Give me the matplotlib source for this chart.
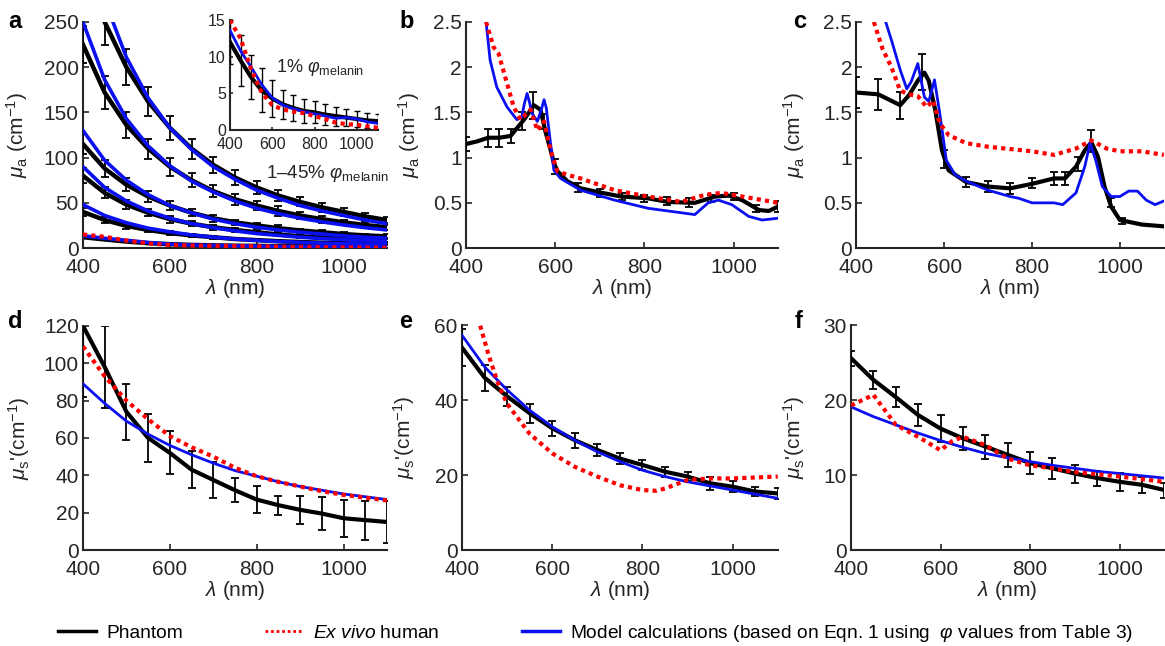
import matplotlib
matplotlib.use('Agg')
import matplotlib.pyplot as plt
from matplotlib.lines import Line2D

plt.rcParams['font.family'] = ['Liberation Sans', 'DejaVu Sans']
plt.rcParams['mathtext.fontset'] = 'custom'
plt.rcParams['mathtext.rm'] = 'Liberation Sans'
plt.rcParams['mathtext.it'] = 'Liberation Sans:italic'
plt.rcParams['mathtext.bf'] = 'Liberation Sans:bold'

# common wavelength grid (nm)
wl = [400, 450, 500, 550, 600, 650, 700, 750, 800, 850, 900, 950, 1000, 1050, 1100]

# panel a: mu_a for phantoms with 1-45% melanin
a_phantom = [
    [335, 250, 200, 162, 133, 110, 92, 78, 67, 58, 51, 45, 40, 35, 31],
    [225, 172, 136, 110, 90, 75, 63, 54, 47, 41, 36, 32, 28.5, 25.5, 23],
    [115, 88, 70, 57, 47, 39, 33, 28.5, 25, 22, 19.5, 17.5, 15.5, 14, 13],
    [80, 61, 48, 39, 32, 27, 23, 20, 17.5, 15, 13, 11.5, 10.5, 9.5, 8.7],
    [40, 31, 24.5, 20, 16.5, 14, 12, 10, 8.8, 7.6, 6.7, 5.9, 5.2, 4.7, 4.3],
]
a_err = [
    [30, 25, 20, 16, 13, 11, 9, 8, 7, 6, 5, 5, 4, 4, 3],
    [20, 18, 14, 11, 10, 8, 7, 6, 5, 5, 4, 4, 3, 3, 3],
    [11, 9, 7, 6, 5, 4, 4, 3, 3, 3, 2, 2, 2, 2, 2],
    [8, 6, 5, 4, 4, 3, 3, 2, 2, 2, 2, 2, 1.5, 1.5, 1.5],
    [4, 3, 3, 2.5, 2, 2, 1.5, 1.5, 1.5, 1, 1, 1, 1, 1, 1],
]
a_model = [
    [368, 274, 211, 166, 133, 109, 90, 76, 64, 55, 47, 41, 36, 31, 27],
    [250, 186, 143, 113, 91, 74, 62, 52, 44, 38, 33, 29, 25.5, 22.5, 20],
    [130, 97, 75, 59, 47, 39, 32, 27, 23, 20, 17.5, 15.5, 13.5, 12, 11],
    [90, 67, 52, 41, 33, 27, 22.5, 19, 16, 14, 12, 10.5, 9.3, 8.3, 7.5],
    [48, 36, 28, 22, 18, 14.5, 12, 10, 8.5, 7.3, 6.3, 5.5, 4.9, 4.3, 3.8],
]
# 1% melanin (also the inset)
a1_phantom = [12, 9.5, 7.2, 5.4, 4.3, 3.5, 3.0, 2.6, 2.4, 2.1, 1.9, 1.7, 1.5, 1.3, 1.2]
a1_err = [3, 3.5, 3, 3, 2.5, 2, 1.8, 1.6, 1.5, 1.4, 1.3, 1.2, 1.1, 1, 1]
a1_model = [13.6, 10.8, 8.6, 6.2, 4.4, 3.4, 2.9, 2.5, 2.2, 1.9, 1.6, 1.7, 1.5, 1.1, 0.9]
a1_exvivo = [15, 12.5, 8.3, 5.1, 3.4, 2.8, 2.5, 2.3, 1.9, 1.5, 1.0, 0.8, 0.7, 0.5, 0.3]

# panel b
b_wl = [400, 425, 450, 475, 500, 515, 530, 540, 552, 567, 578, 590, 597, 605, 627, 657,
        695, 748, 808, 853, 913, 959, 989, 1019, 1057, 1079, 1100]
b_phantom = [1.15, 1.18, 1.22, 1.22, 1.24, 1.33, 1.42, 1.49, 1.58, 1.53, 1.29, 1.08, 0.94,
             0.85, 0.74, 0.66, 0.62, 0.57, 0.55, 0.51, 0.50, 0.57, 0.58, 0.53, 0.42, 0.41, 0.46]
b_eb_wl = [400, 450, 475, 500, 525, 550, 575, 600, 650, 700, 750, 800, 850, 900, 950, 1000, 1050, 1100]
b_eb_val = [1.15, 1.22, 1.22, 1.24, 1.4, 1.58, 1.4, 0.9, 0.67, 0.61, 0.57, 0.55, 0.52, 0.5, 0.55, 0.57, 0.44, 0.46]
b_eb_err = [0.08, 0.1, 0.1, 0.08, 0.1, 0.15, 0.08, 0.08, 0.05, 0.04, 0.04, 0.04, 0.04, 0.05, 0.04, 0.04, 0.04, 0.06]
b_ex_wl = [445, 462, 473, 492, 507, 522, 545, 560, 575, 590, 605, 627, 657, 733, 808, 883, 936, 973, 1019, 1100]
b_exvivo = [2.5, 2.22, 2.15, 1.82, 1.56, 1.42, 1.53, 1.30, 1.40, 1.07, 0.85, 0.81, 0.77, 0.64,
            0.57, 0.51, 0.59, 0.61, 0.57, 0.50]
b_mo_wl = [445, 454, 469, 492, 514, 525, 531, 537, 543, 548, 560, 570, 575, 580, 586, 597, 612,
           657, 733, 808, 883, 913, 943, 966, 996, 1034, 1064, 1100]
b_model = [2.5, 2.08, 1.78, 1.56, 1.42, 1.45, 1.6, 1.71, 1.6, 1.49, 1.40, 1.55, 1.64, 1.55, 1.30,
           0.86, 0.77, 0.64, 0.53, 0.44, 0.39, 0.37, 0.50, 0.53, 0.48, 0.35, 0.31, 0.33]

# panel c
c_wl = [400, 450, 500, 520, 540, 555, 565, 580, 595, 610, 650, 700, 750, 800, 850, 875, 900,
        920, 935, 950, 965, 980, 1000, 1050, 1100]
c_phantom = [1.72, 1.70, 1.58, 1.69, 1.85, 1.94, 1.85, 1.52, 1.08, 0.86, 0.73, 0.68, 0.66,
             0.71, 0.77, 0.77, 0.90, 1.08, 1.17, 1.01, 0.68, 0.46, 0.31, 0.26, 0.24]
c_eb_wl = [400, 450, 500, 550, 600, 650, 700, 750, 800, 850, 875, 905, 935, 980, 1005]
c_eb_val = [1.72, 1.70, 1.58, 1.95, 0.98, 0.73, 0.68, 0.66, 0.72, 0.77, 0.77, 0.93, 1.18, 0.5, 0.3]
c_eb_err = [0.17, 0.17, 0.15, 0.2, 0.1, 0.06, 0.06, 0.06, 0.06, 0.07, 0.07, 0.08, 0.12, 0.05, 0.03]
c_ex_wl = [440, 460, 480, 500, 520, 540, 560, 575, 590, 610, 650, 700, 800, 850, 900, 935, 970, 1000, 1050, 1100]
c_exvivo = [2.5, 2.2, 2.0, 1.74, 1.70, 1.68, 1.56, 1.63, 1.38, 1.25, 1.16, 1.12, 1.07, 1.03,
            1.10, 1.19, 1.10, 1.07, 1.07, 1.03]
c_mo_wl = [467, 480, 500, 515, 525, 540, 555, 565, 578, 590, 605, 625, 650, 700, 750, 770, 800,
           850, 870, 900, 920, 932, 945, 960, 980, 1000, 1020, 1040, 1060, 1080, 1100]
c_model = [2.5, 2.3, 1.97, 1.76, 1.84, 2.04, 1.67, 1.62, 1.86, 1.49, 0.97, 0.81, 0.74, 0.64,
           0.57, 0.55, 0.50, 0.50, 0.48, 0.61, 0.90, 1.16, 0.97, 0.68, 0.57, 0.57, 0.63, 0.63,
           0.53, 0.48, 0.52]

# panels d-f: reduced scattering
d_phantom = [120, 98, 74, 60, 52, 43, 37.5, 32, 27, 24, 21.5, 19.5, 17, 16, 15]
d_err = [38, 22, 15, 13, 11.5, 10, 9.5, 6.5, 7, 5, 7.5, 9, 10, 10.5, 11]
d_exvivo = [109, 93, 80, 70, 61, 55, 50, 44, 39.5, 36.5, 34, 31.5, 29.5, 28, 26.5]
d_model = [89, 78.5, 69, 62, 56, 51, 46.5, 42.5, 39.5, 36.5, 34, 32, 30, 28.5, 27]

e_phantom = [54, 46, 41, 36.5, 32.5, 29.3, 26.7, 24.4, 22.7, 20.9, 19.6, 17.8, 16.9, 15.6, 15.1]
e_err = [5, 3.5, 2.5, 2.5, 2, 2, 1.5, 1.5, 1.3, 1.3, 1.2, 1.8, 1.5, 1.2, 1.5]
e_model = [57.3, 48.9, 42.7, 37.3, 32.9, 29.3, 26.2, 23.6, 21.3, 19.6, 18.2, 17.1, 16, 14.9, 13.8]
e_ex_wl = [435, 440, 460, 480, 500, 550, 600, 650, 700, 750, 800, 830, 850, 900, 950, 1000, 1100]
e_exvivo = [62, 60, 51.6, 44.4, 39, 31, 25.8, 22.2, 19.6, 17.3, 16, 15.8, 16.4, 18.7, 19.1, 19.1, 19.6]

f_phantom = [25.6, 22.7, 20.4, 18, 16.2, 14.9, 13.8, 12.7, 11.6, 10.9, 10.2, 9.6, 9.1, 8.7, 8.0]
f_err = [1, 1.2, 1.3, 1.5, 1.8, 1.5, 1.6, 1.6, 1.5, 1.4, 1.2, 1.0, 1.2, 1.1, 1.0]
f_model = [19.1, 17.8, 16.7, 15.6, 14.6, 13.7, 12.9, 12.3, 11.8, 11.3, 10.9, 10.5, 10.2, 9.9, 9.6]
f_ex_wl = [400, 450, 500, 550, 600, 625, 650, 700, 750, 800, 850, 900, 1000, 1100]
f_exvivo = [19.3, 20.7, 16.7, 15.1, 13.3, 14.5, 15.1, 14, 12.2, 11.3, 10.9, 10.4, 9.8, 9.1]

BLACK = 'k'
RED = '#ff0000'
BLUE = '#0a10f0'
TXT = '#262626'
DOT = (0, (1, 1))

mua_label = r'$\mu_{\rm a}$ (cm$^{-1}$)'
mus_label = r"$\mu_{\rm s}$'(cm$^{-1}$)"


def style(ax, yticks, yticklabels, ylabel, ylabel_x, size=15):
    ax.set_xlim(400, 1100)
    ax.set_ylim(yticks[0], yticks[-1])
    ax.set_xticks([400, 600, 800, 1000])
    ax.set_yticks(yticks)
    ax.set_yticklabels(yticklabels)
    for s in ['top', 'right']:
        ax.spines[s].set_visible(False)
    for s in ['left', 'bottom']:
        ax.spines[s].set_linewidth(1.5)
        ax.spines[s].set_color(TXT)
    ax.tick_params(direction='in', length=4, width=1.2, labelsize=size,
                   colors=TXT, pad=3)
    ax.tick_params(axis='x', pad=7)
    if ylabel:
        ax.set_ylabel(ylabel, fontsize=15, color=TXT)
        ax.yaxis.set_label_coords(ylabel_x, 0.5)
        ax.set_xlabel(r'$\lambda$ (nm)', fontsize=15, color=TXT, labelpad=0)


def ebar(ax, x, y, e):
    ax.errorbar(x, y, yerr=e, fmt='none', ecolor='k', elinewidth=1.3,
                capsize=3, capthick=1.3, zorder=3)


fig = plt.figure(figsize=(11.65, 6.46), dpi=100)

# ---- a
ax = fig.add_axes([0.0712, 0.616, 0.261, 0.350])
for k in range(len(a_phantom)):
    ax.plot(wl, a_phantom[k], color=BLACK, lw=3.2, zorder=2)
    ebar(ax, wl, a_phantom[k], a_err[k])
    ax.plot(wl, a_model[k], color=BLUE, lw=2.6, zorder=4)
ax.plot(wl, a1_phantom, color=BLACK, lw=3.2, zorder=2)
ax.plot(wl, a1_model, color=BLUE, lw=2.6, zorder=4)
ax.plot(wl, a1_exvivo, color=RED, lw=3, ls=DOT, zorder=5)
style(ax, [0, 50, 100, 150, 200, 250], ['0', '50', '100', '150', '200', '250'],
      mua_label, -0.175)

ins = fig.add_axes([0.1974, 0.7988, 0.127, 0.170])
ins.plot(wl, a1_phantom, color=BLACK, lw=3, zorder=2)
ins.errorbar(wl, a1_phantom, yerr=a1_err, fmt='none', ecolor='k', elinewidth=1,
             capsize=2, capthick=1, zorder=3)
ins.plot(wl, a1_model, color=BLUE, lw=2, zorder=4)
ins.plot(wl, a1_exvivo, color=RED, lw=3, ls=DOT, zorder=5)
style(ins, [0, 5, 10, 15], ['0', '5', '10', '15'], None, 0, size=11.5)
ins.tick_params(length=2, pad=3)
ins.tick_params(axis='x', pad=5)

fig.text(0.2747, 0.896, r'1% $\varphi_{\rm melanin}$', fontsize=13,
         ha='center', va='center', color=TXT)
fig.text(0.281, 0.731, r'1–45% $\varphi_{\rm melanin}$', fontsize=13.5,
         ha='center', va='center', color=TXT)

# ---- b
ax = fig.add_axes([0.400, 0.616, 0.268, 0.350])
ax.plot(b_wl, b_phantom, color=BLACK, lw=3, zorder=2)
ebar(ax, b_eb_wl, b_eb_val, b_eb_err)
ax.plot(b_mo_wl, b_model, color=BLUE, lw=2, zorder=4)
ax.plot(b_ex_wl, b_exvivo, color=RED, lw=3, ls=DOT, zorder=5)
style(ax, [0, 0.5, 1, 1.5, 2, 2.5], ['0', '0.5', '1', '1.5', '2', '2.5'],
      mua_label, -0.141)

# ---- c
ax = fig.add_axes([0.735, 0.616, 0.264, 0.350])
ax.plot(c_wl, c_phantom, color=BLACK, lw=3, zorder=2)
ebar(ax, c_eb_wl, c_eb_val, c_eb_err)
ax.plot(c_mo_wl, c_model, color=BLUE, lw=2, zorder=4)
ax.plot(c_ex_wl, c_exvivo, color=RED, lw=3, ls=DOT, zorder=5)
style(ax, [0, 0.5, 1, 1.5, 2, 2.5], ['0', '0.5', '1', '1.5', '2', '2.5'],
      mua_label, -0.16)

# ---- d
ax = fig.add_axes([0.0712, 0.1486, 0.261, 0.347])
ax.plot(wl, d_phantom, color=BLACK, lw=3, zorder=2)
ebar(ax, wl, d_phantom, d_err)
ax.plot(wl, d_model, color=BLUE, lw=2, zorder=4)
ax.plot(wl, d_exvivo, color=RED, lw=3, ls=DOT, zorder=5)
style(ax, [0, 20, 40, 60, 80, 100, 120], ['0', '20', '40', '60', '80', '100', '120'],
      mus_label, -0.168)

# ---- e
ax = fig.add_axes([0.3966, 0.1486, 0.271, 0.348])
ax.plot(wl, e_phantom, color=BLACK, lw=3, zorder=2)
ebar(ax, wl, e_phantom, e_err)
ax.plot(wl, e_model, color=BLUE, lw=2, zorder=4)
ax.plot(e_ex_wl, e_exvivo, color=RED, lw=3, ls=DOT, zorder=5)
style(ax, [0, 20, 40, 60], ['0', '20', '40', '60'], mus_label, -0.142)

# ---- f
ax = fig.add_axes([0.7305, 0.1486, 0.269, 0.348])
ax.plot(wl, f_phantom, color=BLACK, lw=3, zorder=2)
ebar(ax, wl, f_phantom, f_err)
ax.plot(wl, f_model, color=BLUE, lw=2, zorder=4)
ax.plot(f_ex_wl, f_exvivo, color=RED, lw=3, ls=DOT, zorder=5)
style(ax, [0, 10, 20, 30], ['0', '10', '20', '30'], mus_label, -0.14)

# panel letters
for lab, x, y in [('a', 0.007, 0.985), ('b', 0.343, 0.985), ('c', 0.681, 0.985),
                  ('d', 0.007, 0.52), ('e', 0.343, 0.52), ('f', 0.682, 0.52)]:
    fig.text(x, y, lab, fontsize=17, fontweight='bold', ha='left', va='top')

handles = [Line2D([], [], color=BLACK, lw=2.5),
           Line2D([], [], color=RED, lw=2, ls=DOT),
           Line2D([], [], color=BLUE, lw=2.5)]
labels = ['Phantom', r'$\mathit{Ex\ vivo}$ human',
          r'Model calculations (based on Eqn. 1 using  $\varphi$ values from Table 3)']
fig.legend(handles, labels, loc='center', bbox_to_anchor=(0.511, 0.02), ncol=3,
           frameon=False, fontsize=13.8, handlelength=2.0, handletextpad=0.5,
           columnspacing=4.3)

fig.savefig('out.png', dpi=100)
